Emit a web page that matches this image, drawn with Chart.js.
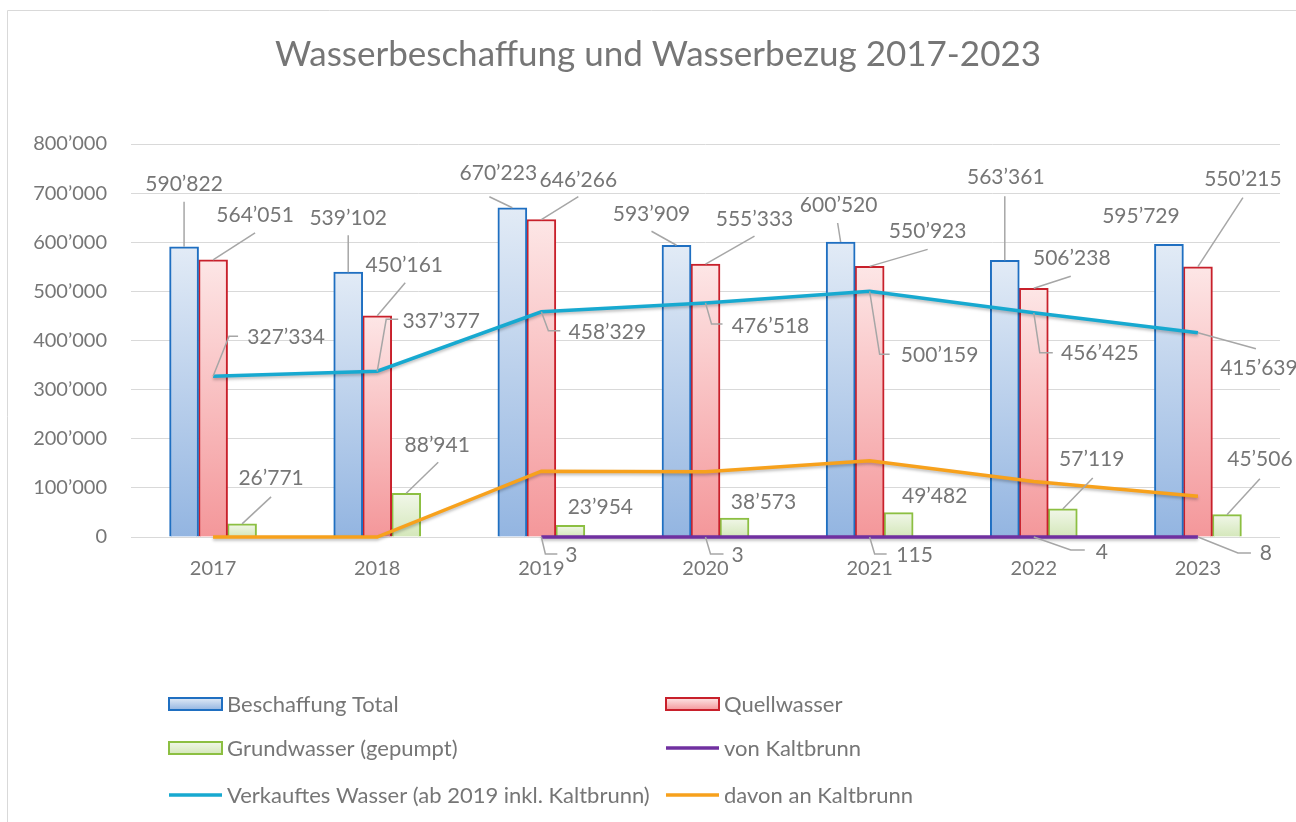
<!DOCTYPE html>
<html>
<head>
<meta charset="utf-8">
<script src="https://cdn.jsdelivr.net/npm/chart.js@4.4.1/dist/chart.umd.min.js"></script>
<style>
  html, body { margin: 0; padding: 0; background: #fff; }
  canvas { display: block; }
</style>
</head>
<body>
<canvas id="chart" width="1296" height="822"></canvas>
<script>
// Daten
const years = ["2017", "2018", "2019", "2020", "2021", "2022", "2023"];
const beschaffungTotal = [590822, 539102, 670223, 593909, 600520, 563361, 595729];
const quellwasser = [564051, 450161, 646266, 555333, 550923, 506238, 550215];
const grundwasser = [26771, 88941, 23954, 38573, 49482, 57119, 45506];
const vonKaltbrunn = [null, null, 3, 3, 115, 4, 8];
const verkauftesWasser = [327334, 337377, 458329, 476518, 500159, 456425, 415639];
const davonKaltbrunn = [0, 0, 134000, 133000, 155000, 113000, 83000];
const yMin = 0, yMax = 800000, yStep = 100000;

// Beschriftungen: [dx, dy, Leader-Punkte] relativ zum Datenpunkt
const placeTotal = [[0, -63, [[0, -45]]], [0, -54, [[0, -37]]], [-14, -35, [[-23, -11]]], [-25, -31, [[-25, -14]]], [-2, -37, [[-3, -19]]], [1, -83, [[0, -64]]], [-28, -28, null]];
const placeQuell = [[42, -45, [[42, -27]]], [27, -51, [[28, -33]]], [37, -39, [[37, -23]]], [49, -45, [[49, -28]]], [58, -35, [[58, -17]]], [38, -30, [[37, -12]]], [45, -87, [[45, -69]]]];
const placeGrund = [[29, -46, [[29, -27]]], [31, -48, [[32, -31]]], [30, -18, null], [29, -16, null], [36, -16, null], [29, -50, [[30, -31]]], [33, -55, [[33, -36]]]];
const placeKalt = [null, null, [30, 18, [[4, 17], [16, 17]]], [32, 18, [[5, 17], [18, 17]]], [45, 18, [[5, 17], [17, 17]]], [68, 15, [[37, 13], [51, 13]]], [68, 16, [[40, 16], [53, 16]]]];
const placeVerk = [[73, -39, [[16, -40], [25, -40]]], [64, -50, [[9, -52], [21, -52]]], [66, 20, [[7, 19], [19, 19]]], [65, 23, [[6, 21], [17, 21]]], [70, 64, [[10, 63], [20, 63]]], [66, 40, [[6, 40], [19, 40]]], [61, 35, [[58, 16]]]];

const textColor = "#767676";
const gridColor = "#d9d9d9";
Chart.defaults.font.family = "Lato";

function fmt(v) {
  return String(v).replace(/\B(?=(\d{3})+(?!\d))/g, "\u2019");
}

function barGradient(top, bottom) {
  return function (ctx) {
    const chart = ctx.chart;
    if (!chart.chartArea || ctx.type !== "data" || ctx.raw == null) return bottom;
    const y = chart.scales.y;
    const g = chart.ctx.createLinearGradient(0, y.getPixelForValue(ctx.raw), 0, y.getPixelForValue(0));
    g.addColorStop(0, top);
    g.addColorStop(1, bottom);
    return g;
  };
}

const blue = { top: "#e2ebf6", bottom: "#93b5e1", border: "#1f6fc1" };
const red = { top: "#fde6e6", bottom: "#f4979a", border: "#c8202b" };
const green = { top: "#f1f7e9", bottom: "#d4e7ba", border: "#8cbf42" };

// Rahmen, Titel, Legende
const framePlugin = {
  id: "frame",
  beforeDraw(chart) {
    const c = chart.ctx;
    c.save();
    c.strokeStyle = gridColor;
    c.lineWidth = 1;
    c.beginPath();
    c.moveTo(7.5, 822);
    c.lineTo(7.5, 10.5);
    c.lineTo(1296, 10.5);
    c.stroke();
    c.restore();
  },
  afterDraw(chart) {
    const c = chart.ctx;
    c.save();
    c.fillStyle = textColor;
    c.font = "35px Lato";
    c.textAlign = "center";
    c.textBaseline = "middle";
    c.fillText("Wasserbeschaffung und Wasserbezug 2017-2023", 658, 55);

    // Legende in zwei Spalten
    const colX = [169, 666];
    const rowY = [704, 748, 795];
    c.font = "22px Lato";
    c.textAlign = "left";
    chart.data.datasets.forEach(function (ds, i) {
      const x = colX[i % 2];
      const y = rowY[Math.floor(i / 2)];
      if (ds.legendStyle) {
        const s = ds.legendStyle;
        const g = c.createLinearGradient(0, y - 6, 0, y + 6);
        g.addColorStop(0, s.top);
        g.addColorStop(1, s.bottom);
        c.fillStyle = g;
        c.fillRect(x, y - 6, 53, 12);
        c.strokeStyle = s.border;
        c.lineWidth = 2;
        c.strokeRect(x, y - 6, 53, 12);
      } else {
        c.strokeStyle = ds.borderColor;
        c.lineWidth = 3.5;
        c.beginPath();
        c.moveTo(x, y);
        c.lineTo(x + 53, y);
        c.stroke();
      }
      c.fillStyle = textColor;
      c.fillText(ds.label, x + 58, y + 1);
    });
    c.restore();
  }
};

// Datenbeschriftungen mit Führungslinien
const labelPlugin = {
  id: "labels",
  afterDatasetsDraw(chart) {
    const c = chart.ctx;
    c.save();
    c.font = "21px Lato";
    c.textAlign = "center";
    c.textBaseline = "middle";
    chart.data.datasets.forEach(function (ds, di) {
      if (!ds.place) return;
      const meta = chart.getDatasetMeta(di);
      meta.data.forEach(function (el, i) {
        const p = ds.place[i];
        const v = ds.data[i];
        if (!p || v == null) return;
        const x = el.x, y = el.y;
        if (p[2]) {
          c.strokeStyle = "#a6a6a6";
          c.lineWidth = 1.5;
          c.beginPath();
          c.moveTo(x, y);
          p[2].forEach(function (q) { c.lineTo(x + q[0], y + q[1]); });
          c.stroke();
        }
        c.fillStyle = textColor;
        c.fillText(fmt(v), x + p[0], y + p[1]);
      });
    });
    c.restore();
  }
};

// leichter Schatten unter den Linien
const shadowPlugin = {
  id: "lineShadow",
  beforeDatasetDraw(chart, args) {
    if (chart.data.datasets[args.index].type !== "line") return;
    const c = chart.ctx;
    c.save();
    c.shadowColor = "rgba(0,0,0,0.25)";
    c.shadowBlur = 3;
    c.shadowOffsetY = 2;
  },
  afterDatasetDraw(chart, args) {
    if (chart.data.datasets[args.index].type !== "line") return;
    chart.ctx.restore();
  }
};

const ctx = document.getElementById("chart").getContext("2d");
new Chart(ctx, {
  type: "bar",
  data: {
    labels: years,
    datasets: [
      {
        label: "Beschaffung Total",
        data: beschaffungTotal,
        backgroundColor: barGradient(blue.top, blue.bottom),
        borderColor: blue.border,
        borderWidth: 2,
        barThickness: 29,
        order: 1,
        legendStyle: blue,
        place: placeTotal
      },
      {
        label: "Quellwasser",
        data: quellwasser,
        backgroundColor: barGradient(red.top, red.bottom),
        borderColor: red.border,
        borderWidth: 2,
        barThickness: 29,
        order: 1,
        legendStyle: red,
        place: placeQuell
      },
      {
        label: "Grundwasser (gepumpt)",
        data: grundwasser,
        backgroundColor: barGradient(green.top, green.bottom),
        borderColor: green.border,
        borderWidth: 2,
        barThickness: 29,
        order: 1,
        legendStyle: green,
        place: placeGrund
      },
      {
        type: "line",
        label: "von Kaltbrunn",
        data: vonKaltbrunn,
        borderColor: "#7030a0",
        borderWidth: 3.5,
        pointRadius: 0,
        tension: 0,
        fill: false,
        clip: false,
        order: 0,
        place: placeKalt
      },
      {
        type: "line",
        label: "Verkauftes Wasser (ab 2019 inkl. Kaltbrunn)",
        data: verkauftesWasser,
        borderColor: "#17a9d0",
        borderWidth: 3.5,
        pointRadius: 0,
        tension: 0,
        fill: false,
        clip: false,
        order: 0,
        place: placeVerk
      },
      {
        type: "line",
        label: "davon an Kaltbrunn",
        data: davonKaltbrunn,
        borderColor: "#f7a11c",
        borderWidth: 3.5,
        pointRadius: 0,
        tension: 0,
        fill: false,
        clip: false,
        order: 0
      }
    ]
  },
  options: {
    responsive: false,
    animation: false,
    layout: { padding: { left: 0, right: 16, top: 144, bottom: 235 } },
    plugins: {
      legend: { display: false },
      tooltip: { enabled: false },
      title: { display: false }
    },
    scales: {
      x: {
        grid: { display: false },
        border: { display: false },
        ticks: { color: textColor, font: { size: 20 }, padding: 12, maxRotation: 0 },
        afterFit(scale) { scale.height = 50; }
      },
      y: {
        min: yMin,
        max: yMax,
        grid: { color: gridColor, drawTicks: false },
        border: { display: false },
        ticks: {
          stepSize: yStep,
          color: textColor,
          font: { size: 20 },
          padding: 24,
          callback: function (v) { return fmt(v); }
        },
        afterFit(scale) { scale.width = 131; }
      }
    }
  },
  plugins: [framePlugin, labelPlugin, shadowPlugin]
});
</script>
</body>
</html>
